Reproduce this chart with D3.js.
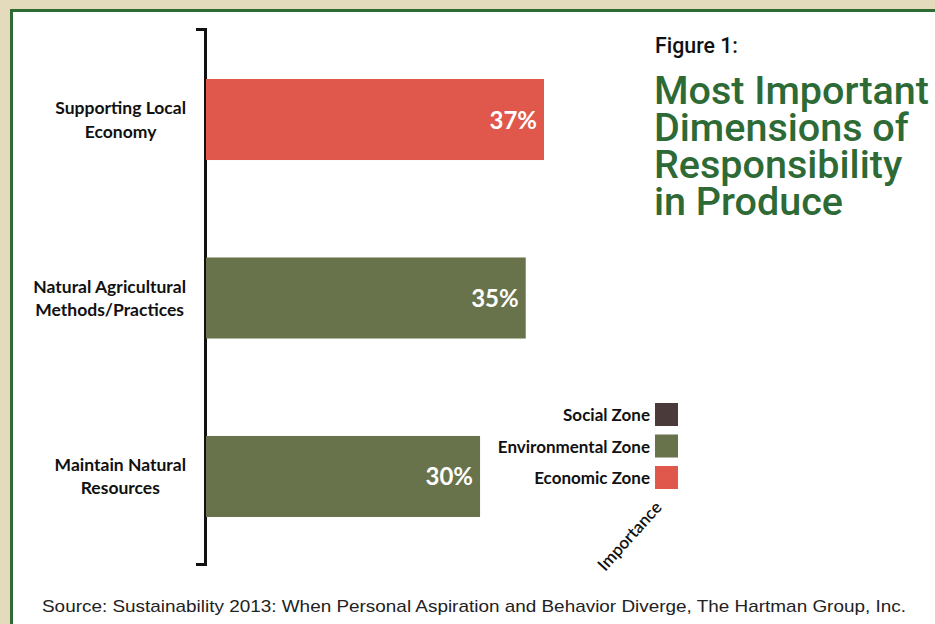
<!DOCTYPE html>
<html><head><meta charset="utf-8">
<script src="https://cdn.jsdelivr.net/npm/d3@7"></script>
<style>body{margin:0;background:#e4dbbd;} svg{display:block;}</style>
</head><body>
<script>
const categories = ["Supporting Local Economy", "Natural Agricultural Methods/Practices", "Maintain Natural Resources"];
const labelLines = [["Supporting Local", "Economy"], ["Natural Agricultural", "Methods/Practices"], ["Maintain Natural", "Resources"]];
const values = [37, 35, 30];
const zones = ["Economic Zone", "Environmental Zone", "Environmental Zone"];
const legendZones = ["Social Zone", "Environmental Zone", "Economic Zone"];
const zoneColors = ["#4a3b3a", "#69734b", "#e0574c"];

const W = 935, H = 624;
const svg = d3.select("body").append("svg").attr("width", W).attr("height", H);
svg.append("rect").attr("width", W).attr("height", H).attr("fill", "#e4dbbd");
svg.append("rect").attr("x", 11.5).attr("y", 10.5).attr("width", W + 20).attr("height", H + 20)
  .attr("fill", "#fff").attr("stroke", "#2e6b35").attr("stroke-width", 3);

const color = d3.scaleOrdinal().domain(legendZones).range(zoneColors);
const x = d3.scaleLinear().domain([0, 37]).range([206, 544]);
const y = d3.scaleBand().domain(categories).range([30, 566]).paddingInner(0.546).paddingOuter(0.2745);

// bracket axis
svg.append("path").attr("d", `M196,29.5H205.5V564.5H196`).attr("fill", "none")
  .attr("stroke", "#111").attr("stroke-width", 3);

// bars
svg.selectAll("rect.bar").data(categories).join("rect").attr("class", "bar")
  .attr("x", x(0)).attr("y", d => y(d)).attr("width", (d, i) => x(values[i]) - x(0))
  .attr("height", y.bandwidth()).attr("fill", (d, i) => color(zones[i]));

svg.selectAll("text.val").data(categories).join("text").attr("class", "val")
  .attr("x", (d, i) => x(values[i]) - 7).attr("y", d => y(d) + y.bandwidth() / 2 + 9)
  .attr("text-anchor", "end").attr("fill", "#fff").attr("font-family", "Lato, sans-serif")
  .attr("font-weight", 700).attr("font-size", 24).text((d, i) => values[i] + "%");

// category labels: lines centred within a block right-aligned near the axis
const lab = svg.selectAll("text.cat").data(categories).join("text").attr("class", "cat")
  .attr("text-anchor", "middle").attr("font-family", "Lato, sans-serif").attr("font-weight", 700)
  .attr("font-size", 17.5).attr("fill", "#111");
lab.each(function(d, i) {
  const cy = y(d) + y.bandwidth() / 2;
  const t = d3.select(this);
  const sp = t.selectAll("tspan").data(labelLines[i]).join("tspan")
    .attr("y", (s, j) => cy - 5.5 + j * 23.5).text(s => s);
  let maxW = 0;
  sp.each(function() { maxW = Math.max(maxW, this.getComputedTextLength()); });
  sp.attr("x", 186 - maxW / 2);
});

// legend
const lg = svg.append("g");
legendZones.forEach((z, i) => {
  const yy = 403 + i * 31.5;
  lg.append("rect").attr("x", 655).attr("y", yy).attr("width", 23).attr("height", 23).attr("fill", color(z));
  lg.append("text").attr("x", 650).attr("y", yy + 18).attr("text-anchor", "end")
    .attr("font-family", "Lato, sans-serif").attr("font-weight", 700).attr("font-size", 17)
    .attr("fill", "#111").text(z);
});
svg.append("text").attr("transform", "translate(634,540) rotate(-48)").attr("text-anchor", "middle")
  .attr("font-family", "Lato, sans-serif").attr("font-weight", 600).attr("font-size", 17)
  .attr("fill", "#111").text("Importance");

// titles
svg.append("text").attr("x", 655).attr("y", 53).attr("font-family", "Roboto, sans-serif")
  .attr("font-size", 22).attr("font-weight", 500).attr("fill", "#111")
  .attr("textLength", 83).attr("lengthAdjust", "spacingAndGlyphs").text("Figure 1:");
const tl = ["Most Important", "Dimensions of", "Responsibility", "in Produce"];
svg.append("text").attr("font-family", "Roboto, 'Liberation Sans', sans-serif").attr("font-weight", 500)
  .attr("font-size", 39.5).attr("fill", "#2d6a35")
  .selectAll("tspan").data(tl).join("tspan").attr("x", 654).attr("y", (d, i) => 104 + i * 37).text(d => d);

svg.append("text").attr("x", 42).attr("y", 612).attr("font-family", "'Liberation Sans', Arial, sans-serif")
  .attr("font-size", 17).attr("fill", "#222").attr("textLength", 864).attr("lengthAdjust", "spacingAndGlyphs")
  .text("Source: Sustainability 2013: When Personal Aspiration and Behavior Diverge, The Hartman Group, Inc.");
</script>
</body></html>
